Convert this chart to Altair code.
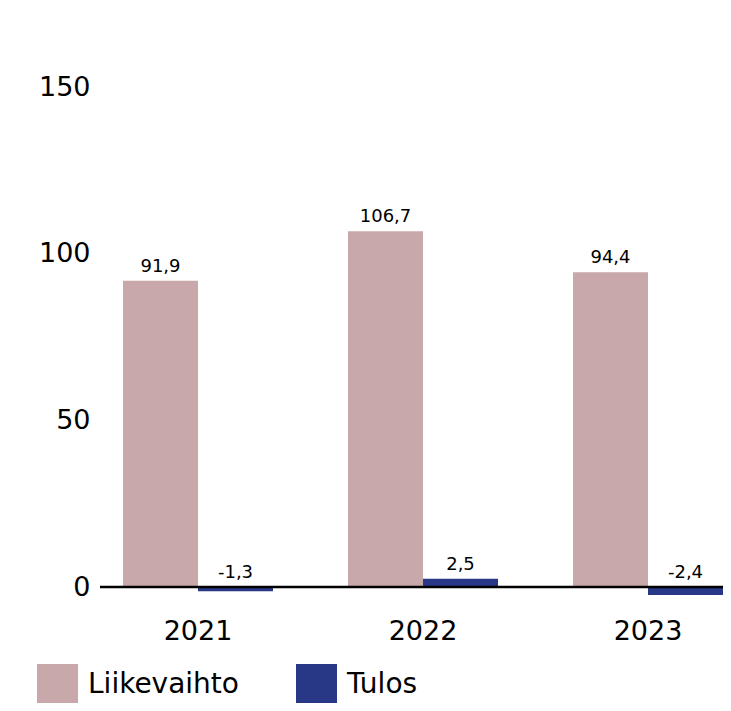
import altair as alt
import pandas as pd

years = ["2021", "2022", "2023"]
series_names = ["Liikevaihto", "Tulos"]
liikevaihto = [91.9, 106.7, 94.4]
tulos = [-1.3, 2.5, -2.4]
colors = ["#c8a8aa", "#283786"]
y_ticks = [0, 50, 100, 150]

rows = []
for i, yr in enumerate(years):
    for name, vals in (("Liikevaihto", liikevaihto), ("Tulos", tulos)):
        v = vals[i]
        rows.append({
            "year": yr,
            "series": name,
            "value": v,
            "label": f"{v:.1f}".replace(".", ","),
            "label_y": max(v, 0),
        })
df = pd.DataFrame(rows)

FONT = "DejaVu Sans"

x_enc = alt.X(
    "year:N",
    sort=years,
    title=None,
    scale=alt.Scale(paddingInner=0.3333, paddingOuter=0.0511, align=1),
    axis=alt.Axis(labelAngle=0, domain=False, ticks=False, labelPadding=11,
                  labelFontSize=27, labelColor="black", labelFont=FONT),
)
y_scale = alt.Scale(domain=[-6, 173.7], nice=False, zero=False)

bars = alt.Chart(df).mark_bar().encode(
    x=x_enc,
    xOffset=alt.XOffset("series:N", sort=series_names, scale=alt.Scale(paddingInner=0, paddingOuter=0)),
    y=alt.Y("value:Q", scale=y_scale, title=None,
            axis=alt.Axis(values=y_ticks, domain=False, ticks=False, grid=False,
                          labelPadding=10, labelFontSize=27, labelColor="black",
                          labelFont=FONT)),
    color=alt.Color("series:N", sort=series_names,
                    scale=alt.Scale(domain=series_names, range=colors),
                    legend=alt.Legend(title=None, orient="none", direction="horizontal",
                                      legendX=-63, legendY=656, padding=0,
                                      symbolType="square", symbolSize=1681,
                                      symbolStrokeWidth=0, symbolOpacity=1,
                                      labelFontSize=28, labelFont=FONT,
                                      labelColor="black", labelOffset=10,
                                      columnPadding=57, labelLimit=400)),
)

labels = alt.Chart(df).mark_text(
    baseline="alphabetic", dy=-9, fontSize=18, font=FONT, color="black"
).encode(
    x=alt.X("year:N", sort=years),
    xOffset=alt.XOffset("series:N", sort=series_names),
    y=alt.Y("label_y:Q", scale=y_scale),
    text="label:N",
)

zero = alt.Chart(pd.DataFrame({"y": [0]})).mark_rule(color="black", strokeWidth=2.5).encode(
    y=alt.Y("y:Q", scale=y_scale)
)

chart = alt.layer(bars, labels, zero).properties(
    width=623,
    height=599,
    background="white",
    autosize=alt.AutoSizeParams(type="none"),
    padding={"left": 92, "top": 0, "right": 0, "bottom": 96},
).configure_view(strokeWidth=0, stroke=None)

chart.save("out.html", embed_options={"renderer": "svg", "actions": False})
